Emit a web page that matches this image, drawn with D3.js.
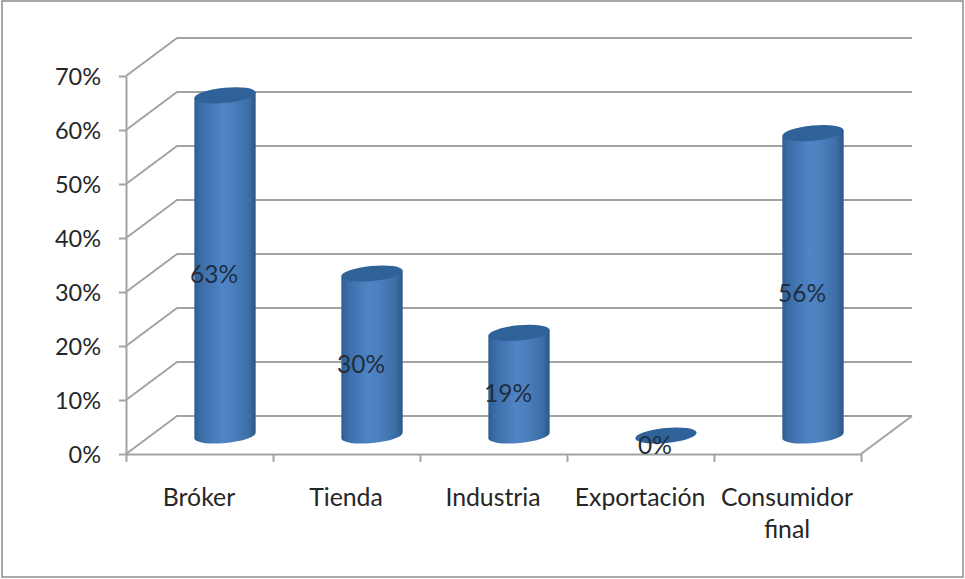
<!DOCTYPE html>
<html>
<head>
<meta charset="utf-8">
<script src="https://cdn.jsdelivr.net/npm/d3@7"></script>
<style>
  html, body { margin: 0; padding: 0; background: #fff; }
  svg { display: block; }
  text { font-family: Lato, "Open Sans", sans-serif; fill: #262626; }
</style>
</head>
<body>
<svg id="chart" width="965" height="579"></svg>
<script>
const categories = [["Bróker"], ["Tienda"], ["Industria"], ["Exportación"], ["Consumidor", "final"]];
const values = [63, 30, 19, 0, 56];
const tickValues = [0, 10, 20, 30, 40, 50, 60, 70];

const svg = d3.select("#chart");
const chartW = 965, chartH = 579;
const plotLeft = 126, plotRight = 861, plotBottom = 454, plotTop = 76;
const depthX = 51, depthY = 38;           // oblique offset of the back wall
const barRx = 30.8, barRy = 7.6, tilt = -5.5;

const x = d3.scaleBand().domain(d3.range(categories.length)).range([plotLeft, plotRight]);
const y = d3.scaleLinear().domain([0, 70]).range([plotBottom, plotTop]);
const baseY = y(0) - 18.5;                // centre of the cylinder bases on the floor
const barHeight = d3.scaleLinear().domain([0, 70]).range([0, y(0) - y(70)]);
const barX = i => x(i) + x.bandwidth() / 2 + depthX / 2;

const defs = svg.append("defs");
const grad = defs.append("linearGradient").attr("id", "cyl");
[[0, "#2f5e92"], [0.1, "#3b6ca6"], [0.45, "#4f85c6"], [0.6, "#4c80bf"], [0.88, "#3d6ea6"], [1, "#2c5786"]]
  .forEach(([o, c]) => grad.append("stop").attr("offset", o).attr("stop-color", c));

// Outer frame
svg.append("rect").attr("x", 2).attr("y", 1).attr("width", chartW - 4).attr("height", chartH - 3)
  .attr("fill", "#fff").attr("stroke", "#8c8c8c").attr("stroke-width", 1.5);

// Back wall gridlines and their oblique returns to the value axis
const grid = svg.append("g").attr("stroke", "#a3a3a3").attr("stroke-width", 2).attr("fill", "none");
grid.selectAll("path").data(tickValues).join("path")
  .attr("d", d => d3.line()([
    [plotLeft, y(d)],
    [plotLeft + depthX, y(d) - depthY],
    [plotRight + depthX, y(d) - depthY]
  ]));
// Right edge of the floor
grid.append("path").attr("d", d3.line()([
  [plotRight, plotBottom],
  [plotRight + depthX, plotBottom - depthY]
]));

// Value axis
const yAxis = svg.append("g").attr("transform", `translate(${plotLeft},0)`)
  .call(d3.axisLeft(y).tickValues(tickValues).tickFormat(d => d + "%").tickSize(7).tickSizeOuter(0).tickPadding(17));
yAxis.selectAll("text").style("font-size", "23.5px").attr("fill", "#262626").attr("dx", "-1").attr("dy", "0.36em");

// Category axis with ticks on the band edges
const xAxis = svg.append("g").attr("transform", `translate(0,${plotBottom})`);
const edges = d3.range(categories.length).map(i => x(i)).concat(plotRight);
xAxis.call(d3.axisBottom(d3.scaleIdentity().domain([plotLeft, plotRight]).range([plotLeft, plotRight]))
  .tickValues(edges).tickFormat("").tickSize(8).tickSizeOuter(0));
svg.selectAll(".domain, .tick line").attr("stroke", "#a3a3a3").attr("stroke-width", 2);

svg.append("g").selectAll("text").data(categories).join("text")
  .attr("text-anchor", "middle")
  .style("font-size", "24.8px")
  .each(function (lines, i) {
    d3.select(this).selectAll("tspan").data(lines).join("tspan")
      .attr("x", x(i) + x.bandwidth() / 2 - 0.5)
      .attr("y", (d, k) => 506 + k * 32)
      .text(d => d);
  });

// Cylinders: a body closed by the base's lower arc, with a tilted ellipse for the top
const rad = tilt * Math.PI / 180;
const bars = svg.append("g").selectAll("g").data(values).join("g");
bars.each(function (v, i) {
  const g = d3.select(this), cx = barX(i), topY = baseY - barHeight(v);
  const dx = barRx * Math.cos(rad), dy = barRx * Math.sin(rad);
  if (v > 0) {
    g.append("path")
      .attr("d", `M${cx - dx},${topY + dy * -1} L${cx - dx},${baseY - dy}
                  A${barRx},${barRy} ${tilt} 0 0 ${cx + dx},${baseY + dy}
                  L${cx + dx},${topY + dy} Z`)
      .attr("fill", "url(#cyl)");
  }
  g.append("ellipse")
    .attr("rx", barRx).attr("ry", barRy)
    .attr("transform", `translate(${cx},${topY}) rotate(${tilt})`)
    .attr("fill", "#30629a");
});

// Value labels
svg.append("g").selectAll("text").data(values).join("text")
  .attr("x", (d, i) => barX(i) - 11)
  .attr("y", d => baseY - barHeight(d) / 2 + 18)
  .attr("text-anchor", "middle")
  .style("font-size", "24.5px")
  .style("fill", "#1f2f40")
  .text(d => d + "%");
</script>
</body>
</html>
